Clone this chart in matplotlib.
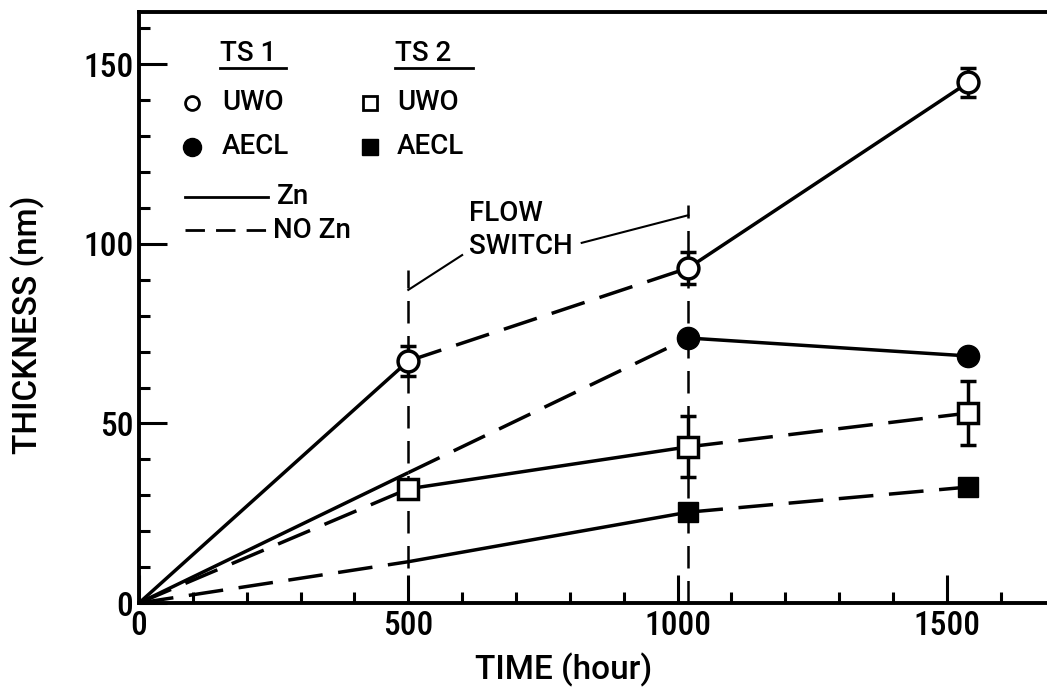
import matplotlib
matplotlib.use('Agg')
import matplotlib.pyplot as plt
from matplotlib import font_manager as fm
import numpy as np

# ---------------- data ----------------
time = [0, 500, 1020, 1540]
ts1_uwo = [0, 67.4, 93.3, 145.0]
ts1_uwo_err = [0, 4.3, 4.4, 4.0]
ts1_aecl = [0, 36.3, 73.8, 68.8]
ts2_uwo = [0, 31.8, 43.5, 52.9]
ts2_uwo_err = [0, 0, 8.5, 9.0]
ts2_aecl = [0, 11.5, 25.3, 32.3]
flow_switch_times = [500, 1020]
flow_switch_tops = [92.8, 110.9]
x_ticks = [0, 500, 1000, 1500]
y_ticks = [0, 50, 100, 150]

# ---------------- fonts ----------------
entries = fm.fontManager.ttflist
names = {f.name for f in entries}
narrow = None
for cand in ['Roboto Condensed', 'Liberation Sans Narrow', 'Open Sans Condensed',
             'Noto Sans Condensed']:
    if cand in names:
        narrow = cand
        break
text_family = 'Roboto' if 'Roboto' in names else 'DejaVu Sans'
if narrow is None:
    narrow = text_family
plt.rcParams['font.family'] = text_family
TXT = dict(family=text_family, weight='medium')
if text_family == 'Roboto':
    LFS, AFS = 20, 24
else:
    LFS, AFS = 17, 20
TFS = 24 if narrow != text_family else 21

fig = plt.figure(figsize=(10.47, 6.92), dpi=100)
ax = fig.add_axes([0.1328, 0.1286, 0.8672, 0.8541])
ax.set_xlim(0, 1686)
ax.set_ylim(0, 164.6)

LW = 2.5
DASH = (0, (10, 4.5))
SOLID = '-'
ts1_styles = [SOLID, DASH, SOLID]
ts2_styles = [DASH, SOLID, DASH]


def draw_segments(y, styles):
    for i, st in enumerate(styles):
        ax.plot(time[i:i + 2], y[i:i + 2], color='black', lw=LW, linestyle=st,
                solid_capstyle='butt', dash_capstyle='butt', zorder=3)


draw_segments(ts1_uwo, ts1_styles)
draw_segments(ts1_aecl, ts1_styles)
draw_segments(ts2_uwo, ts2_styles)
draw_segments(ts2_aecl, ts2_styles)

MS = 15
ax.errorbar(time[1:], ts1_uwo[1:], yerr=ts1_uwo_err[1:], fmt='o', ms=MS,
            mfc='white', mec='black', mew=2.5, ecolor='black', elinewidth=2.5,
            capsize=6, capthick=2.8, zorder=5)
ax.plot(time[2:], ts1_aecl[2:], 'o', ms=MS + 1, mfc='black', mec='black', zorder=5)
ax.errorbar(time[1:], ts2_uwo[1:], yerr=[e if e > 0 else np.nan for e in ts2_uwo_err[1:]],
            fmt='s', ms=MS, mfc='white', mec='black', mew=2.5, ecolor='black',
            elinewidth=2.5, capsize=6, capthick=2.8, zorder=5)
ax.plot(time[2:], ts2_aecl[2:], 's', ms=MS, mfc='black', mec='black', zorder=5)

# flow switch lines
for t, top in zip(flow_switch_times, flow_switch_tops):
    ax.plot([t, t], [0, top], color='black', lw=1.8, linestyle=(0, (9, 5)), zorder=2)
ax.plot([500, 600], [87.2, 96.9], color='black', lw=1.5, zorder=2)
ax.plot([822, 1020], [100.3, 108.0], color='black', lw=1.5, zorder=2)
ax.text(612, 108.6, 'FLOW', fontsize=LFS, ha='left', va='center', **TXT)
ax.text(612, 99.2, 'SWITCH', fontsize=LFS, ha='left', va='center', **TXT)

# ---------------- ticks / spines ----------------
ax.set_xticks(x_ticks)
ax.set_xticks([v for v in range(100, 1700, 100) if v % 500], minor=True)
ax.set_yticks(y_ticks)
ax.set_yticks([v for v in range(10, 165, 10) if v % 50], minor=True)
ax.tick_params(which='major', direction='in', length=20, width=2.2, labelsize=TFS, pad=5)
ax.tick_params(which='minor', direction='in', length=8, width=2.2)
ax.tick_params(axis='y', which='major', pad=4)
for lab in ax.get_xticklabels() + ax.get_yticklabels():
    lab.set_family(narrow)
    lab.set_weight('medium')
for s in ['left', 'bottom', 'top']:
    ax.spines[s].set_linewidth(2.8)
ax.spines['right'].set_visible(False)

ax.set_ylabel('THICKNESS (nm)', fontsize=AFS, **TXT)
ax.yaxis.set_label_coords(-0.104, 0.47)
ax.set_xlabel('TIME (hour)', fontsize=AFS, **TXT)
ax.xaxis.set_label_coords(0.468, -0.085)
ax.xaxis.label.set_va('top')

# ---------------- legend (drawn) ----------------
T = ax.transAxes
ax.text(0.0892, 0.930, 'TS 1', transform=T, fontsize=LFS, ha='left', va='center', **TXT)
ax.plot([0.0892, 0.162], [0.905, 0.905], transform=T, color='black', lw=2)
ax.text(0.282, 0.930, 'TS 2', transform=T, fontsize=LFS, ha='left', va='center', **TXT)
ax.plot([0.282, 0.368], [0.905, 0.905], transform=T, color='black', lw=2)

ax.plot([0.0584], [0.846], 'o', transform=T, ms=10, mfc='white', mec='black', mew=2)
ax.text(0.0914, 0.846, 'UWO', transform=T, fontsize=LFS, ha='left', va='center', **TXT)
ax.plot([0.254], [0.846], 's', transform=T, ms=10, mfc='white', mec='black', mew=2)
ax.text(0.284, 0.846, 'UWO', transform=T, fontsize=LFS, ha='left', va='center', **TXT)

ax.plot([0.0584], [0.7716], 'o', transform=T, ms=13, mfc='black', mec='black')
ax.text(0.0914, 0.7716, 'AECL', transform=T, fontsize=LFS, ha='left', va='center', **TXT)
ax.plot([0.254], [0.7716], 's', transform=T, ms=11, mfc='black', mec='black')
ax.text(0.284, 0.7716, 'AECL', transform=T, fontsize=LFS, ha='left', va='center', **TXT)

ax.plot([0.0507, 0.142], [0.687, 0.687], transform=T, color='black', lw=2)
ax.text(0.152, 0.687, 'Zn', transform=T, fontsize=LFS, ha='left', va='center', **TXT)
ax.plot([0.0507, 0.142], [0.631, 0.631], transform=T, color='black', lw=2,
        linestyle=(0, (7, 4)))
ax.text(0.1476, 0.631, 'NO Zn', transform=T, fontsize=LFS, ha='left', va='center', **TXT)

fig.savefig('out.png', dpi=100)
